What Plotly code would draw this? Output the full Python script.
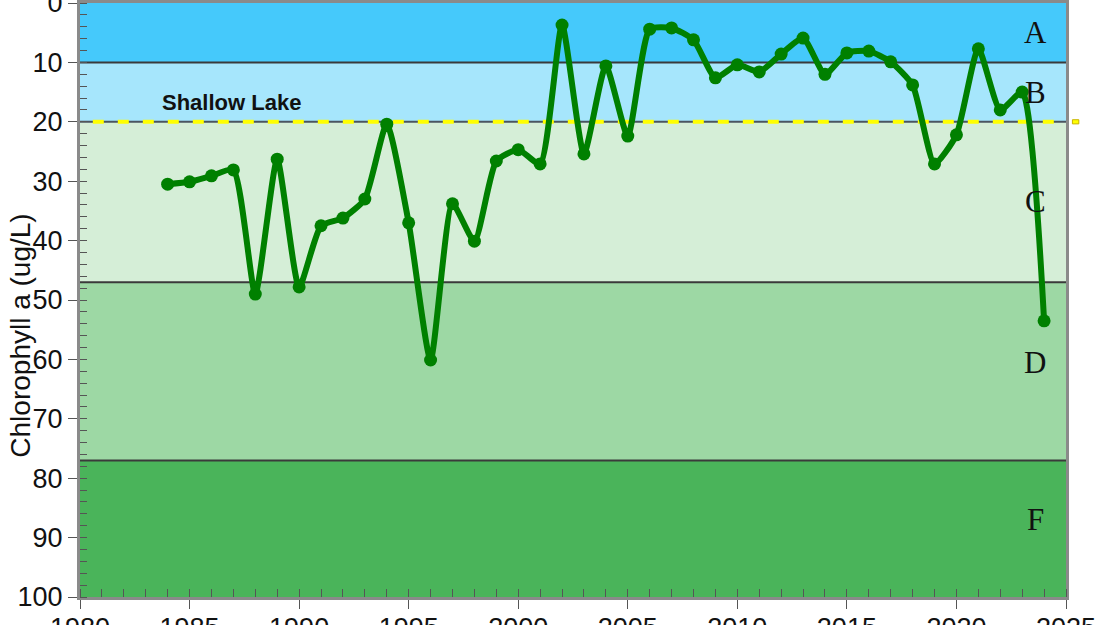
import plotly.graph_objects as go

years = list(range(1984, 2025))
chl = [30.5, 30.1, 29.1, 28.1, 49.0, 26.3, 47.8, 37.5, 36.2, 33.0,
       20.4, 37.0, 60.1, 33.8, 40.1, 26.6, 24.7, 27.1, 3.7, 25.4,
       10.6, 22.4, 4.4, 4.2, 6.2, 12.6, 10.4, 11.6, 8.6, 5.9,
       12.0, 8.4, 8.1, 9.9, 13.8, 27.1, 22.2, 7.7, 18.0, 15.0, 53.5]

band_edges = [0, 10, 20, 47, 77, 100]
band_colors = ["#45c9fb", "#a6e6fc", "#d5eed7", "#9dd8a4", "#4ab45a"]
band_labels = ["A", "B", "C", "D", "F"]
band_label_y = [5, 15, 33.5, 60.5, 87]
band_label_x = 2023.6

shallow_threshold = 20
shallow_label = "Shallow Lake"
shallow_label_x = 1986.9
shallow_label_y = 16.7

x_range = [1980, 2025]
y_range = [100, 0]

fig = go.Figure()

shapes = []
for i in range(len(band_colors)):
    shapes.append(dict(type="rect", xref="paper", yref="y", x0=0, x1=1,
                       y0=band_edges[i], y1=band_edges[i + 1],
                       fillcolor=band_colors[i], line=dict(width=0), layer="below"))
for e in band_edges[1:-1]:
    if e == shallow_threshold:
        continue
    shapes.append(dict(type="line", xref="paper", yref="y", x0=0, x1=1, y0=e, y1=e,
                       line=dict(color="#3a3a3a", width=2), layer="below"))
# shallow lake threshold: dark line + yellow dashes
shapes.append(dict(type="line", xref="paper", yref="y", x0=0, x1=1,
                   y0=shallow_threshold, y1=shallow_threshold,
                   line=dict(color="#4a5560", width=2), layer="below"))
shapes.append(dict(type="line", xref="paper", yref="y", x0=0.013, x1=1,
                   y0=shallow_threshold, y1=shallow_threshold,
                   line=dict(color="#ffff00", width=4, dash="11px,14px"), layer="below"))
# small legend-like mark outside the plot
shapes.append(dict(type="rect", xref="paper", yref="y", x0=1.0065, x1=1.0130,
                   y0=shallow_threshold - 0.35, y1=shallow_threshold + 0.35,
                   fillcolor="#ffff00", line=dict(color="#c8b400", width=1)))

fig.add_trace(go.Scatter(
    x=years, y=chl, mode="lines+markers",
    line=dict(color="#008000", width=6, shape="spline", smoothing=0.55),
    marker=dict(color="#008000", size=13),
    hoverinfo="skip", showlegend=False))

annotations = []
for lab, yy in zip(band_labels, band_label_y):
    annotations.append(dict(x=band_label_x, y=yy, xref="x", yref="y", text=lab,
                            showarrow=False,
                            font=dict(family="Liberation Serif, Times New Roman, serif",
                                      size=31, color="#111111")))
annotations.append(dict(x=shallow_label_x, y=shallow_label_y, xref="x", yref="y",
                        text="<b>" + shallow_label + "</b>", showarrow=False,
                        font=dict(family="Liberation Sans, Arial, sans-serif",
                                  size=22, color="#111111")))
annotations.append(dict(x=-0.0598, y=0.44, xref="paper", yref="paper",
                        text="Chlorophyll a (ug/L)", textangle=-90, showarrow=False,
                        xanchor="center", yanchor="middle",
                        font=dict(family="Liberation Sans, Arial, sans-serif",
                                  size=28, color="#111111")))

axis_font = dict(family="Liberation Sans, Arial, sans-serif", size=27, color="#111111")

fig.update_layout(
    width=1110, height=625,
    margin=dict(l=80, r=44, t=3, b=28, autoexpand=False),
    paper_bgcolor="white", plot_bgcolor="white",
    template="none",
    shapes=shapes, annotations=annotations,
    xaxis=dict(range=x_range, dtick=5, tick0=1980, showgrid=False, zeroline=False,
               showline=True, linecolor="#8a8a8a", linewidth=3, mirror=True,
               ticks="outside", ticklen=9, tickwidth=1, tickcolor="#555555",
               minor=dict(dtick=1, ticks="inside", ticklen=8, tickcolor="#555555", showgrid=False),
               tickfont=axis_font, automargin=False, ticklabeloverflow="allow",
               ticklabelstandoff=-4),
    yaxis=dict(range=y_range, dtick=10, tick0=0, showgrid=False, zeroline=False,
               showline=True, linecolor="#8a8a8a", linewidth=3, mirror=True,
               ticks="outside", ticklen=9, tickwidth=1, tickcolor="#555555",
               minor=dict(dtick=2, ticks="inside", ticklen=7, tickcolor="#555555", showgrid=False),
               tickfont=axis_font, automargin=False, ticklabeloverflow="allow"),
)

fig.write_html("out.html", config={"displayModeBar": False},
               post_script="document.body.style.margin='0';document.body.style.overflow='hidden';")
